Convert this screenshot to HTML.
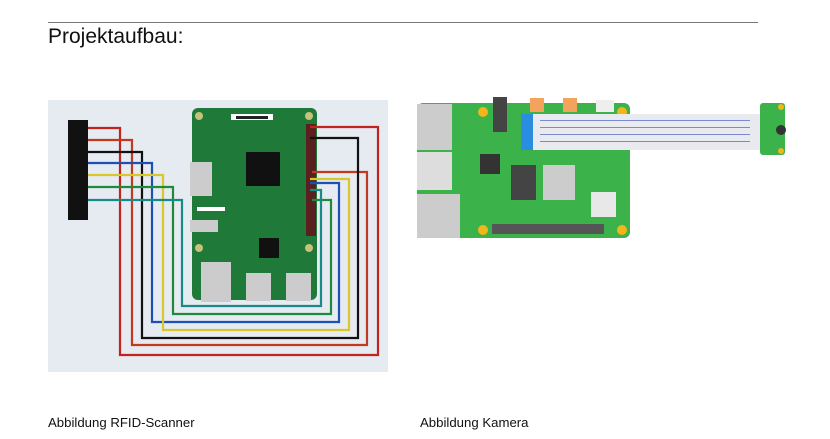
<!DOCTYPE html>
<html><head><meta charset="utf-8"><style>
body{margin:0;width:830px;height:439px;background:#fff;position:relative;font-family:"Liberation Sans",Arial,sans-serif;overflow:hidden}
.t{position:absolute;color:#111}
</style></head><body>
<div style="position:absolute;left:48px;top:22px;width:710px;height:1px;background:#777"></div>
<div class="t" style="left:48px;top:25px;font-size:21px">Projektaufbau:</div>
<div class="t" style="left:48px;top:415px;font-size:13.2px">Abbildung RFID-Scanner</div>
<div class="t" style="left:420px;top:415px;font-size:13.2px">Abbildung Kamera</div>
<svg width="830" height="439" style="position:absolute;left:0;top:0">
<rect x="48" y="100" width="340" height="272" fill="#e6eaf1"/>
<rect x="192" y="108" width="125" height="192" rx="6" fill="#1f7a3a"/>
<circle cx="199" cy="116" r="4" fill="#c9c17a"/><circle cx="309" cy="116" r="4" fill="#c9c17a"/>
<circle cx="199" cy="248" r="4" fill="#c9c17a"/><circle cx="309" cy="248" r="4" fill="#c9c17a"/>
<rect x="231" y="114" width="42" height="6" fill="#fff"/><rect x="236" y="116" width="32" height="3" fill="#222"/>
<rect x="190" y="162" width="22" height="34" fill="#ccc"/>
<rect x="246" y="152" width="34" height="34" fill="#111"/>
<rect x="259" y="238" width="20" height="20" fill="#111"/>
<rect x="197" y="207" width="28" height="4" fill="#fff"/>
<rect x="190" y="220" width="28" height="12" fill="#ccc"/>
<rect x="201" y="262" width="30" height="40" fill="#ccc"/>
<rect x="246" y="273" width="25" height="28" fill="#ccc"/>
<rect x="286" y="273" width="25" height="28" fill="#ccc"/>
<rect x="306" y="124" width="10" height="112" fill="#5a2020"/>
<rect x="68" y="120" width="20" height="100" fill="#111"/>
<g fill="none" stroke-width="2.2">
<polyline stroke="#c2231e" points="88,128 120,128 120,355 378,355 378,127 310,127"/>
<polyline stroke="#c23a1e" points="88,140 132,140 132,345 367,345 367,172 312,172"/>
<polyline stroke="#111" points="88,152 142,152 142,338 358,338 358,138 310,138"/>
<polyline stroke="#1d4fb4" points="88,163 152,163 152,322 339,322 339,183 310,183"/>
<polyline stroke="#d8c72a" points="88,175 163,175 163,330 349,330 349,179 310,179"/>
<polyline stroke="#1f8a3c" points="88,187 173,187 173,314 331,314 331,200 312,200"/>
<polyline stroke="#198a86" points="88,200 182,200 182,306 321,306 321,190 310,190"/>
</g>
<rect x="417" y="103" width="213" height="135" rx="6" fill="#3cb34a"/>
<rect x="417" y="104" width="35" height="46" fill="#ccc"/>
<rect x="417" y="152" width="35" height="38" fill="#ddd"/>
<rect x="417" y="194" width="43" height="44" fill="#ccc"/>
<rect x="493" y="97" width="14" height="35" fill="#444"/>
<rect x="530" y="98" width="14" height="14" fill="#f3a35c"/><rect x="563" y="98" width="14" height="14" fill="#f3a35c"/>
<rect x="596" y="100" width="18" height="12" fill="#eee"/>
<circle cx="483" cy="112" r="5" fill="#f2b51a"/><circle cx="622" cy="112" r="5" fill="#f2b51a"/>
<circle cx="483" cy="230" r="5" fill="#f2b51a"/><circle cx="622" cy="230" r="5" fill="#f2b51a"/>
<rect x="480" y="154" width="20" height="20" fill="#333"/>
<rect x="511" y="165" width="25" height="35" fill="#444"/>
<rect x="543" y="165" width="32" height="35" fill="#ccc"/>
<rect x="591" y="192" width="25" height="25" fill="#e8e8e8"/>
<rect x="492" y="224" width="112" height="10" fill="#555"/>
<rect x="521" y="114" width="12" height="36" fill="#2a8de0"/>
<rect x="533" y="114" width="227" height="36" fill="#e8eaf0"/>
<g fill="#7a8ad0"><rect x="540" y="120" width="210" height="1"/><rect x="540" y="127" width="210" height="1"/><rect x="540" y="134" width="210" height="1"/><rect x="540" y="141" width="210" height="1"/></g>
<rect x="760" y="103" width="25" height="52" rx="3" fill="#3cb34a"/>
<circle cx="781" cy="130" r="5" fill="#333"/>
<circle cx="781" cy="107" r="3" fill="#f2b51a"/><circle cx="781" cy="151" r="3" fill="#f2b51a"/>
</svg>
</body></html>
